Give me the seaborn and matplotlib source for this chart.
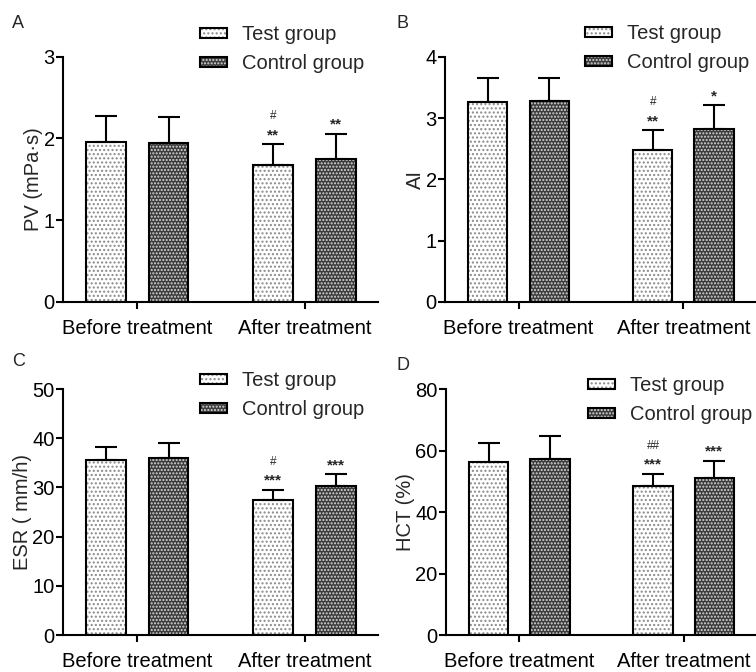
import matplotlib
matplotlib.use("Agg")
import matplotlib.pyplot as plt
from matplotlib.patches import Patch, Rectangle
import numpy as np
import pandas as pd
import seaborn as sns

# data: order = Before/After for each group
times = ["Before treatment", "After treatment"]
groups = ["Test group", "Control group"]

pv_test = [1.96, 1.67]
pv_ctrl = [1.94, 1.75]
pv_test_sd = [0.31, 0.26]
pv_ctrl_sd = [0.32, 0.31]

ai_test = [3.26, 2.48]
ai_ctrl = [3.28, 2.82]
ai_test_sd = [0.40, 0.32]
ai_ctrl_sd = [0.38, 0.39]

esr_test = [35.6, 27.4]
esr_ctrl = [36.0, 30.3]
esr_test_sd = [2.7, 2.1]
esr_ctrl_sd = [3.0, 2.4]

hct_test = [56.2, 48.4]
hct_ctrl = [57.1, 51.2]
hct_test_sd = [6.2, 4.0]
hct_ctrl_sd = [7.8, 5.4]

panel_letters = ["A", "B", "C", "D"]
ylabels = ["PV (mPa·s)", "AI", "ESR ( mm/h)", "HCT (%)"]
ymax = [3, 4, 50, 80]
ystep = [1, 1, 10, 20]
# significance marks above the "After treatment" bars
stars_test = ["**", "**", "***", "***"]
hash_test = ["#", "#", "#", "##"]
stars_ctrl = ["**", "*", "***", "***"]

panels = [
    (pv_test, pv_ctrl, pv_test_sd, pv_ctrl_sd),
    (ai_test, ai_ctrl, ai_test_sd, ai_ctrl_sd),
    (esr_test, esr_ctrl, esr_test_sd, esr_ctrl_sd),
    (hct_test, hct_ctrl, hct_test_sd, hct_ctrl_sd),
]

sns.set_style("ticks")
plt.rcParams["font.family"] = ["Liberation Sans", "DejaVu Sans"]
plt.rcParams["hatch.linewidth"] = 1.0
plt.rcParams["axes.linewidth"] = 1.5

W, H = 756, 672
fig = plt.figure(figsize=(W / 100, H / 100), dpi=100)

# axes rectangles [left, bottom, width, height] in figure fraction
rects = [
    [0.0833, 0.5506, 0.4167, 0.365],
    [0.5886, 0.5506, 0.4114, 0.365],
    [0.0833, 0.055, 0.4167, 0.366],
    [0.5900, 0.055, 0.4100, 0.366],
]
legend_anchor = [(0.435, 1.128), (0.45, 1.133), (0.435, 1.073), (0.458, 1.053)]
letter_pos = [(12, 24), (397, 23), (12, 361), (397, 366)]  # pixels from top-left

test_hatch = "...."
ctrl_hatch = "....."
test_face, test_dot = "white", "#8a8a8a"
ctrl_face, ctrl_dot = "#3c3c3c", "#d8d8d8"
FS = 14.5

for i, (t, c, tsd, csd) in enumerate(panels):
    ax = fig.add_axes(rects[i])
    df = pd.DataFrame({
        "time": times * 2,
        "group": [groups[0]] * 2 + [groups[1]] * 2,
        "value": list(t) + list(c),
    })
    sds = list(tsd) + list(csd)
    sns.barplot(data=df, x="time", y="value", hue="group", hue_order=groups,
                palette=[test_face, ctrl_face], linewidth=0,
                width=0.745, gap=0.36, errorbar=None, legend=False, ax=ax,
                saturation=1)
    bars = list(ax.patches[:4])
    for j, b in enumerate(bars):
        is_test = j < 2
        b.set_hatch(test_hatch if is_test else ctrl_hatch)
        b.set_edgecolor(test_dot if is_test else ctrl_dot)
        b.set_linewidth(0)
        # black outline on top of the hatched fill
        ax.add_patch(Rectangle((b.get_x(), 0), b.get_width(), b.get_height(),
                               fill=False, edgecolor="black", linewidth=1.5, zorder=3))
        xc = b.get_x() + b.get_width() / 2
        h = b.get_height()
        ax.errorbar([xc], [h], yerr=[[0], [sds[j]]], fmt="none", ecolor="black",
                    elinewidth=1.5, capsize=8, capthick=1.5, zorder=1)
    # annotations on After treatment bars
    bt = bars[1]
    bc = bars[3]
    top_t = bt.get_height() + sds[1]
    top_c = bc.get_height() + sds[3]
    xt = bt.get_x() + bt.get_width() / 2
    xcc = bc.get_x() + bc.get_width() / 2
    ax.annotate(stars_test[i], (xt, top_t), xytext=(0, 1.5), textcoords="offset points",
                ha="center", va="bottom", fontsize=11, fontweight="bold")
    ax.annotate(hash_test[i], (xt, top_t), xytext=(0, 16), textcoords="offset points",
                ha="center", va="bottom", fontsize=8.5)
    ax.annotate(stars_ctrl[i], (xcc, top_c), xytext=(0, 1.5), textcoords="offset points",
                ha="center", va="bottom", fontsize=11, fontweight="bold")

    ax.set_xlim(-0.446, 1.44)
    ax.set_ylim(0, ymax[i])
    ax.set_yticks(np.arange(0, ymax[i] + ystep[i] / 2, ystep[i]))
    ax.set_xlabel("")
    ax.set_ylabel(ylabels[i], fontsize=FS, labelpad=0)
    ax.tick_params(axis="both", labelsize=FS, width=1.5, length=5, colors="black")
    ax.tick_params(axis="x", pad=7)
    ax.tick_params(axis="y", pad=1)
    for s in ["top", "right"]:
        ax.spines[s].set_visible(False)
    for s in ["left", "bottom"]:
        ax.spines[s].set_color("black")

    handles = [
        (Patch(facecolor=test_face, edgecolor=test_dot, hatch=test_hatch, linewidth=0),
         Patch(facecolor="none", edgecolor="black", linewidth=1.5)),
        (Patch(facecolor=ctrl_face, edgecolor=ctrl_dot, hatch=ctrl_hatch, linewidth=0),
         Patch(facecolor="none", edgecolor="black", linewidth=1.5)),
    ]
    ax.legend(handles, groups, loc="upper left", bbox_to_anchor=legend_anchor[i],
              frameon=False, fontsize=FS, handlelength=1.35, handleheight=0.4,
              handletextpad=0.75, labelspacing=0.5, borderpad=0, borderaxespad=0)
    lx, ly = letter_pos[i]
    fig.text(lx / W, 1 - ly / H, panel_letters[i], fontsize=13, ha="left", va="center")

fig.savefig("out.png", dpi=100)
